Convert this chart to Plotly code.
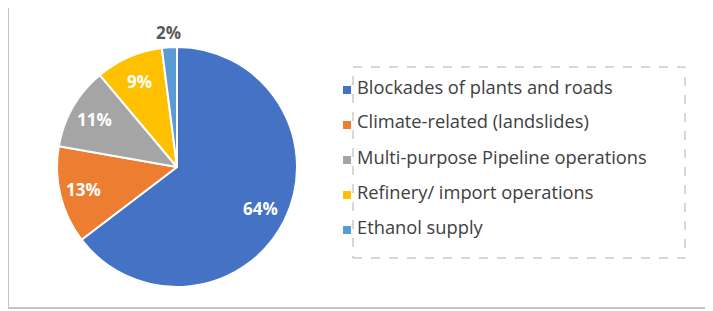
import math
import plotly.graph_objects as go

labels = ["Blockades of plants and roads", "Climate-related (landslides)",
          "Multi-purpose Pipeline operations", "Refinery/ import operations",
          "Ethanol supply"]
values = [64, 13, 11, 9, 2]
pct_text = ["64%", "13%", "11%", "9%", "2%"]
colors = ["#4472C4", "#ED7D31", "#A5A5A5", "#FFC000", "#5B9BD5"]
label_colors = ["white", "white", "white", "white", "#595959"]
label_radius = [0.78, 0.80, 0.79, 0.78, 1.12]   # fraction of pie radius

# page body has an 8px margin, so figure coordinates are offset by 8px
OFF = 8
W, H = 713 - OFF, 311 - OFF
def px(x): return (x - OFF) / W
def py(y): return 1 - (y - OFF) / H

pie_x = [px(57), px(297)]
pie_y = [py(287), py(47)]

fig = go.Figure()
fig.add_trace(go.Pie(
    labels=labels, values=values, text=pct_text, textinfo="none",
    sort=False, direction="clockwise", rotation=0,
    marker=dict(colors=colors, line=dict(color="white", width=2)),
    domain=dict(x=pie_x, y=pie_y),
    hoverinfo="label+text", showlegend=False,
))

# percentage labels along each slice's mid-angle
cx = (pie_x[0] + pie_x[1]) / 2 * W
cy = (1 - (pie_y[0] + pie_y[1]) / 2) * H
R = (pie_x[1] - pie_x[0]) * W / 2
total = sum(values)
annotations = []
cum = 0
for v, t, c, rf in zip(values, pct_text, label_colors, label_radius):
    mid = (cum + v / 2) / total * 2 * math.pi
    cum += v
    x = cx + rf * R * math.sin(mid)
    y = cy - rf * R * math.cos(mid)
    annotations.append(dict(xref="paper", yref="paper", x=x / W, y=1 - y / H,
                            xanchor="center", yanchor="middle", showarrow=False,
                            text=f"<b>{t}</b>",
                            font=dict(family="Open Sans", size=17, color=c)))

shapes = [
    dict(type="rect", xref="paper", yref="paper", x0=px(8), x1=px(730), y0=py(308), y1=py(5),
         line=dict(color="#C4C4C4", width=2), layer="below"),
    dict(type="rect", xref="paper", yref="paper", x0=px(353), x1=px(685), y0=py(258), y1=py(67),
         line=dict(color="#B0B0B0", width=1, dash="dash")),
]
for i, (lab, col) in enumerate(zip(labels, colors)):
    yc = 86 + 35 * i
    shapes.append(dict(type="rect", xref="paper", yref="paper",
                       x0=px(343), x1=px(351), y0=py(yc + 8), y1=py(yc),
                       fillcolor=col, line=dict(width=0)))
    annotations.append(dict(xref="paper", yref="paper", x=px(355), y=py(yc),
                            xanchor="left", yanchor="middle", showarrow=False,
                            text=lab, font=dict(family="Open Sans", size=18.3, color="#404040")))

fig.update_layout(
    width=W, height=H, margin=dict(l=0, r=0, t=0, b=0),
    paper_bgcolor="white", plot_bgcolor="white",
    shapes=shapes, annotations=annotations, showlegend=False,
)
fig.write_html("out.html")
